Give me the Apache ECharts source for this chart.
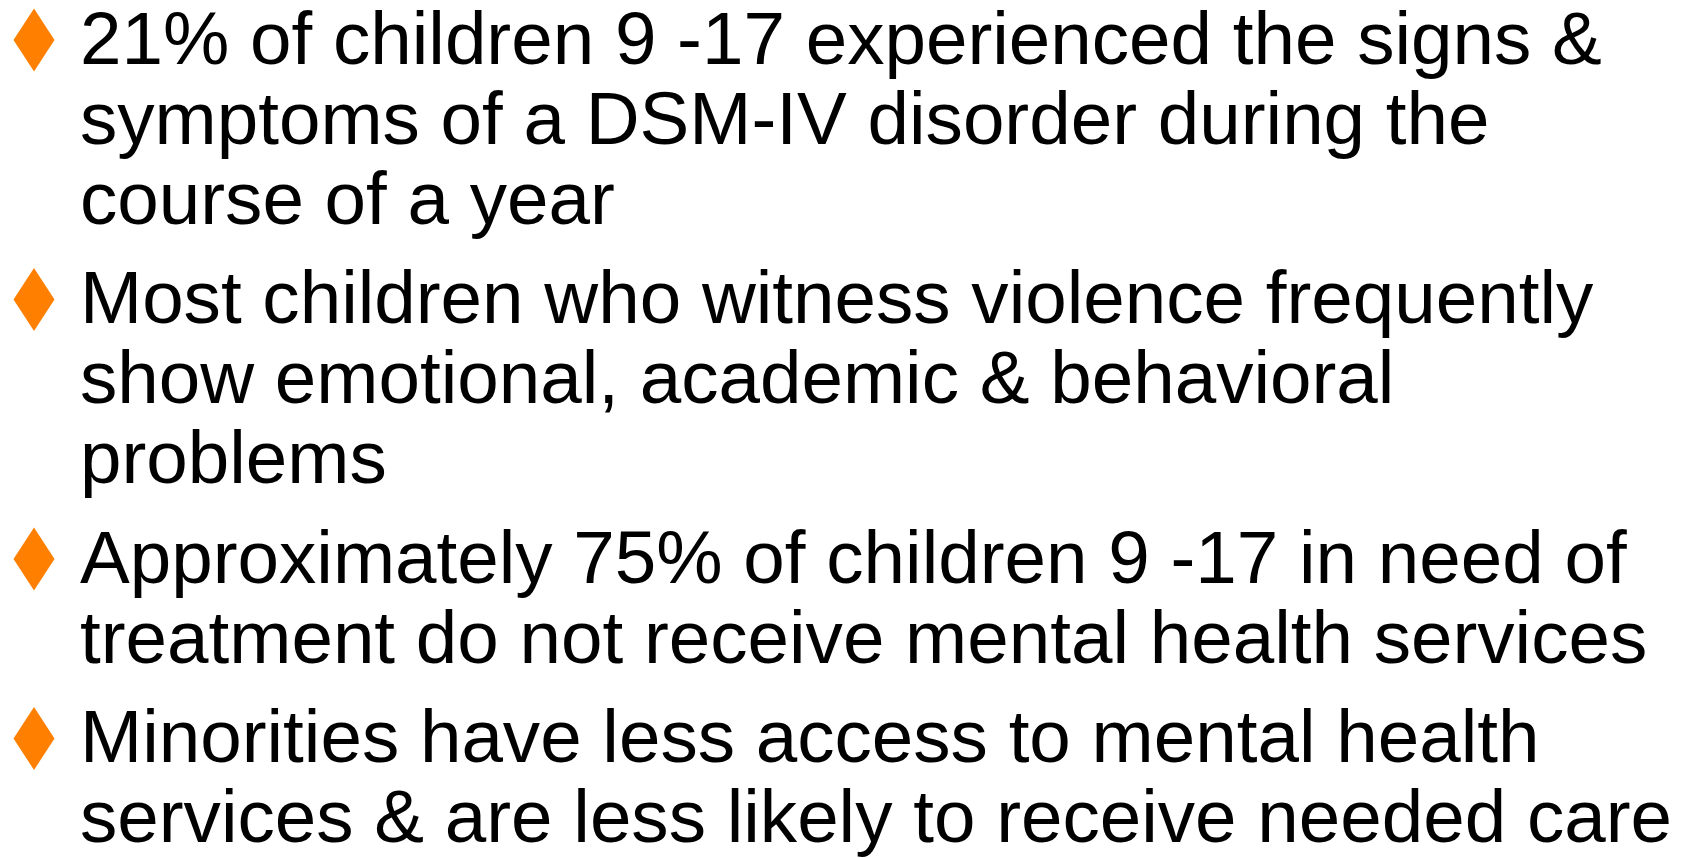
<!DOCTYPE html>
<html>
<head>
<meta charset="utf-8">
<script src="https://cdn.jsdelivr.net/npm/echarts@6/dist/echarts.min.js"></script>
<style>
html,body{margin:0;padding:0;background:#fff;}
#main{width:1682px;height:858px;}
</style>
</head>
<body>
<div id="main"></div>
<script>
// Slide content: each bullet is a list of its wrapped lines
var bullet1 = ["21% of children 9 -17 experienced the signs &", "symptoms of a DSM-IV disorder during the", "course of a year"];
var bullet2 = ["Most children who witness violence frequently", "show emotional, academic & behavioral", "problems"];
var bullet3 = ["Approximately 75% of children 9 -17 in need of", "treatment do not receive mental health services"];
var bullet4 = ["Minorities have less access to mental health", "services & are less likely to receive needed care"];
var bullets = [bullet1, bullet2, bullet3, bullet4];

var FONT = "'Liberation Sans', Arial, Helvetica, sans-serif";
var fontSize = 74.6;
var lineStep = 80;
var paraGap = 19.5;
var firstBaseline = 68;
var textX = 80;
var diamondCX = 34, diamondW = 41, diamondH = 63, diamondOffset = 28;

var elements = [];
var lineIdx = 0;
bullets.forEach(function (lines, p) {
  var b0 = firstBaseline + lineStep * lineIdx + paraGap * p;
  var cy = b0 - diamondOffset;
  elements.push({
    type: 'polygon',
    shape: { points: [[diamondCX, cy - diamondH / 2], [diamondCX + diamondW / 2, cy], [diamondCX, cy + diamondH / 2], [diamondCX - diamondW / 2, cy]] },
    style: { fill: '#FF8000' }
  });
  lines.forEach(function (t, i) {
    var base = b0 + lineStep * i;
    elements.push({
      type: 'text',
      x: textX,
      y: base - fontSize * 0.33,
      style: {
        text: t,
        fill: '#000',
        font: fontSize + 'px ' + FONT,
        align: 'left',
        verticalAlign: 'middle'
      }
    });
  });
  lineIdx += lines.length;
});

var chart = echarts.init(document.getElementById('main'));
chart.setOption({
  backgroundColor: '#ffffff',
  animation: false,
  graphic: { elements: elements }
});
</script>
</body>
</html>
